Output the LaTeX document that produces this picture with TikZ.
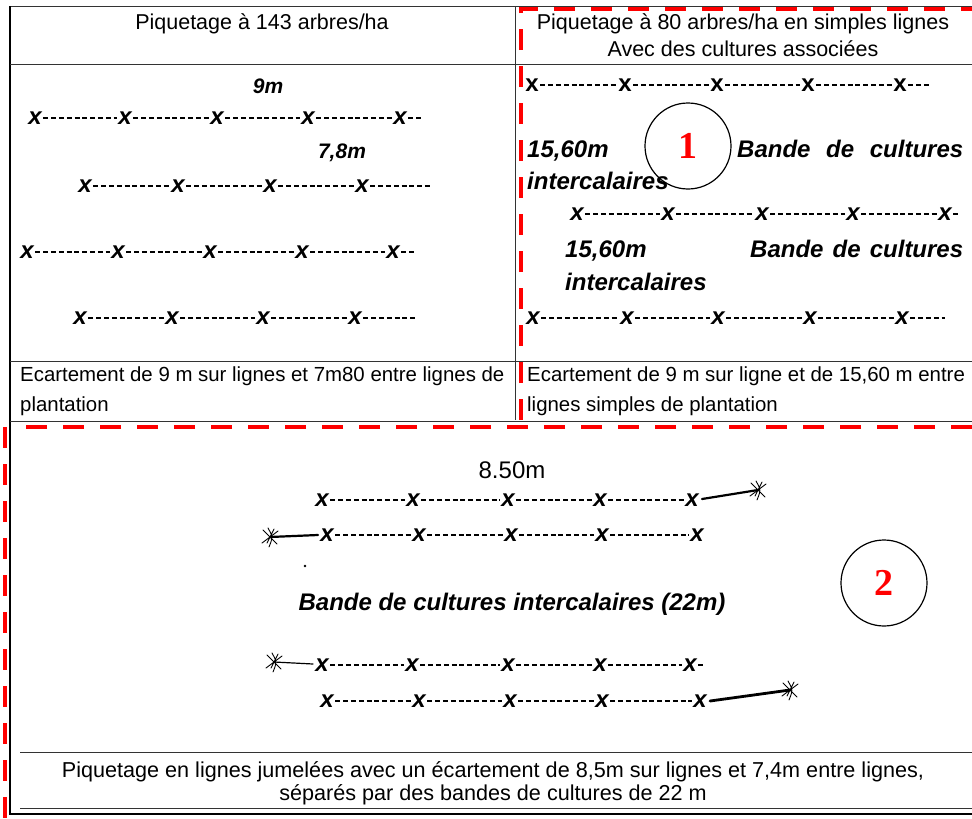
\documentclass[tikz,border=0pt]{standalone}
\usepackage{fontspec}
\setmainfont{Liberation Sans}
\newfontfamily\tagfont{Liberation Serif}

\tikzset{
  cell/.style={font=\fontsize{21.5}{26}\selectfont, inner sep=0pt, anchor=base},
  note/.style={font=\fontsize{20.4}{24}\selectfont, inner sep=0pt, anchor=base west},
  legend/.style={font=\fontsize{21.6}{24}\selectfont, inner sep=0pt, anchor=base},
  dim/.style={font=\fontsize{21}{24}\selectfont\bfseries\itshape, inner sep=0pt, anchor=base},
  band/.style={font=\fontsize{24}{28}\selectfont\bfseries\itshape, inner sep=0pt, anchor=base west},
  tree/.style={font=\fontsize{24}{24}\selectfont\bfseries\itshape, inner sep=0pt},
  plantline/.style={line width=1.7pt, dash pattern=on 5pt off 2.8pt, shorten <=1.5pt, shorten >=1.5pt},
  scribble/.style={line width=2.2pt, line cap=round},
  frame/.style={line width=0.9pt, black!80},
  border/.style={line width=2pt},
  zone/.style={red, line width=4.5pt, dash pattern=on 21pt off 16pt},
  tag/.style={circle, draw, line width=1.2pt, minimum size=86pt, inner sep=0pt,
    text=red, font=\tagfont\bfseries\fontsize{38}{38}\selectfont},
  sketchtree/.pic={
    \draw[line width=0.9pt, line cap=round] (-7,-7) -- (7,7) (-8,6) -- (8,-6)
      (-2,-9) .. controls (3,0) .. (-1,10) (4,-8) -- (-3,6);
  }
}

\begin{document}
\begin{tikzpicture}[x=1pt,y=-1pt]
\useasboundingbox (0,0) rectangle (972,819);
% table frame
\draw[frame] (972,6) -- (10,6);
\draw[border] (10,6) -- (10,814) -- (972,814);
\draw[frame] (515,6) -- (515,420);
\draw[frame] (10,64) -- (972,64);
\draw[frame] (10,361) -- (972,361);
\draw[frame] (10,421) -- (972,421);
\draw[frame] (20,752) -- (972,752);
\draw[frame] (20,808) -- (972,808);

% headers
\node[cell] (head1) at (262,29) {Piquetage à 143 arbres/ha};
\node[cell] (head2) at (743,29) {Piquetage à 80 arbres/ha en simples lignes};
\node[cell] (head2b) at (743,56) {Avec des cultures associées};

% left: 143 arbres/ha
\node[dim] (d9) at (268,93) {9m};
\node[dim] (d78) at (342,158) {7,8m};
\foreach \n/\x in {1/35,2/125,3/217,4/308,5/400} \node[tree] (a\n) at (\x,118) {x};
\foreach \n/\x in {1/85,2/178,3/270,4/362} \node[tree] (b\n) at (\x,186) {x};
\foreach \n/\x in {1/27,2/118,3/210,4/302,5/393} \node[tree] (c\n) at (\x,252) {x};
\foreach \n/\x in {1/80,2/172,3/263,4/355} \node[tree] (d\n) at (\x,318) {x};
\coordinate (aend) at (425,118);
\coordinate (bend) at (432,186);
\coordinate (cend) at (418,252);
\coordinate (dend) at (416,318);
\foreach \p/\q in {1/2,2/3,3/4,4/5} {
  \draw[plantline] (a\p) -- (a\q);
  \draw[plantline] (c\p) -- (c\q);
}
\foreach \p/\q in {1/2,2/3,3/4} {
  \draw[plantline] (b\p) -- (b\q);
  \draw[plantline] (d\p) -- (d\q);
}
\draw[plantline] (a5) -- (aend);
\draw[plantline] (b4) -- (bend);
\draw[plantline] (c5) -- (cend);
\draw[plantline] (d4) -- (dend);
\node[note] (note1) at (20,381) {Ecartement de 9 m sur lignes et 7m80 entre lignes de};
\node[note] (note1b) at (20,411) {plantation};

% right: 80 arbres/ha
\foreach \n/\x in {1/532,2/625,3/717,4/808,5/900} \node[tree, font=\fontsize{24}{24}\selectfont\bfseries] (e\n) at (\x,85) {x};
\foreach \n/\x in {1/577,2/668,3/762,4/853,5/945} \node[tree] (f\n) at (\x,214) {x};
\foreach \n/\x in {1/533,2/627,3/718,4/810,5/902} \node[tree] (g\n) at (\x,318) {x};
\coordinate (eend) at (930,85);
\coordinate (fend) at (960,214);
\coordinate (gend) at (946,318);
\foreach \p/\q in {1/2,2/3,3/4,4/5} {
  \draw[plantline] (e\p) -- (e\q);
  \draw[plantline] (f\p) -- (f\q);
  \draw[plantline] (g\p) -- (g\q);
}
\draw[plantline] (e5) -- (eend);
\draw[plantline] (f5) -- (fend);
\draw[plantline] (g5) -- (gend);
\node[band] (w1) at (527,157) {15,60m};
\node[band, text width=226pt] (band1) at (737,157) {Bande\hfill de\hfill cultures};
\node[band] (int1) at (527,189) {intercalaires};
\node[band] (w2) at (565,257) {15,60m};
\node[band, text width=213pt] (band2) at (750,257) {Bande\hfill de\hfill cultures};
\node[band] (int2) at (565,290) {intercalaires};
\node[note] (note2) at (527,381) {Ecartement de 9 m sur ligne et de 15,60 m entre};
\node[note] (note2b) at (527,411) {lignes simples de plantation};

% bottom: lignes jumelees
\node[cell, font=\fontsize{24}{26}\selectfont] (d85) at (512,478) {8.50m};
\foreach \n/\x in {1/322,2/413,3/508,4/600,5/692} \node[tree] (h\n) at (\x,500) {x};
\foreach \n/\x in {1/327,2/419,3/511,4/602,5/697} \node[tree] (i\n) at (\x,535) {x};
\foreach \n/\x in {1/322,2/412,3/508,4/600,5/690} \node[tree] (j\n) at (\x,665) {x};
\foreach \n/\x in {1/327,2/419,3/510,4/602,5/700} \node[tree] (k\n) at (\x,701) {x};
\foreach \p/\q in {1/2,2/3,3/4,4/5} {
  \draw[plantline] (h\p) -- (h\q);
  \draw[plantline] (i\p) -- (i\q);
  \draw[plantline] (j\p) -- (j\q);
  \draw[plantline] (k\p) -- (k\q);
}
\coordinate (jend) at (706,665);
\draw[plantline] (j5) -- (jend);
\coordinate (th) at (758,490);
\coordinate (ti) at (270,537);
\coordinate (tj) at (274,662);
\coordinate (tk) at (790,690);
\draw[scribble] (h5) ++(10,-1) -- (th);
\draw[scribble] (i1) ++(-9,0) -- (ti);
\draw[scribble, line width=1.2pt] (j1) ++(-9,-1) -- (tj);
\draw[scribble, line width=2.8pt] (k5) ++(10,0) -- (tk);
\pic at (th) {sketchtree};
\pic at (ti) {sketchtree};
\pic at (tj) {sketchtree};
\pic at (tk) {sketchtree};
\fill (305,566) circle (1.3pt);
\node[band, anchor=base] (band3) at (512,610) {Bande de cultures intercalaires (22m)};
\node[legend] (cap1) at (493,777) {Piquetage en lignes jumelées avec un écartement de 8,5m sur lignes et 7,4m entre lignes,};
\node[legend] (cap2) at (493,800) {séparés par des bandes de cultures de 22 m};

% zones
\draw[zone] (521,420) -- (521,9) -- (972,9);
\draw[zone] (972,427) -- (20,427);
\draw[zone] (5,427) -- (5,819);
\node[tag] (tag1) at (688,146) {1};
\node[tag] (tag2) at (884,583) {2};
\end{tikzpicture}
\end{document}
